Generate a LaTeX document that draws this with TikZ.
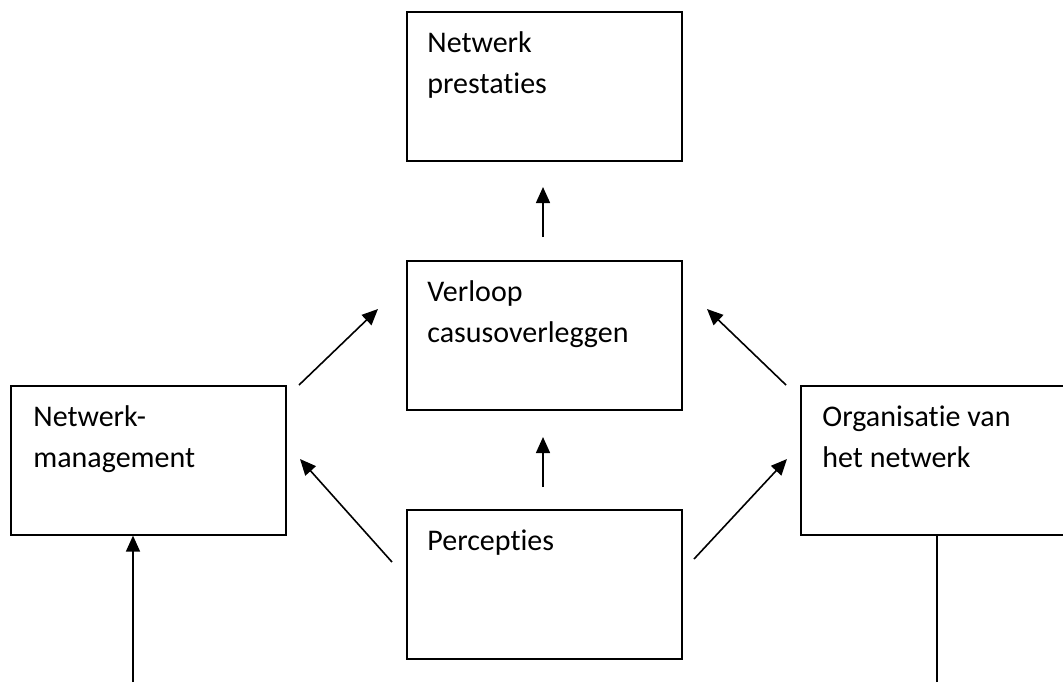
\documentclass[tikz,border=0pt]{standalone}
\usepackage{fontspec}
\setmainfont{Carlito}[Ligatures=NoCommon]
\usetikzlibrary{arrows.meta}
\tikzset{
  box/.style={draw, line width=0.8pt, anchor=north west, minimum width=137.5pt, minimum height=74.5pt, inner sep=0pt},
  boxtext/.style={anchor=base west, align=left, inner sep=0pt, font=\fontsize{15}{20.5}\selectfont},
  pijl/.style={-{Triangle[length=8pt,width=7pt]}, line width=0.8pt},
}
\begin{document}
\begin{tikzpicture}[x=0.5pt,y=-0.5pt]
    \useasboundingbox (0,0) rectangle (1063,682);

    % boxes
    \node[box] (prestaties) at (406,11) {};
    \node[box] (verloop) at (406,260) {};
    \node[box] (percepties) at (406,509) {};
    \node[box] (management) at (10,385) {};
    \node[box, minimum width=136pt] (organisatie) at (800,385) {};

    % texts, base = last line
    \node[boxtext] (t1) at ([xshift=10.5pt,yshift=-41pt]prestaties.north west) {Netwerk\\prestaties};
    \node[boxtext] (t2) at ([xshift=10.5pt,yshift=-41pt]verloop.north west) {Verloop\\casusoverleggen};
    \node[boxtext] (t3) at ([xshift=10.5pt,yshift=-20.5pt]percepties.north west) {Percepties};
    \node[boxtext] (t4) at ([xshift=11.5pt,yshift=-41pt]management.north west) {Netwerk-\\management};
    \node[boxtext] (t5) at ([xshift=11pt,yshift=-41pt]organisatie.north west) {Organisatie van\\het netwerk};

    % arrow ends
    \coordinate (a1) at (543,237);
    \coordinate (a2) at (543,187);
    \coordinate (b1) at (543,487);
    \coordinate (b2) at (543,437);
    \coordinate (c1) at (299,385);
    \coordinate (c2) at (378,309);
    \coordinate (d1) at (786,385);
    \coordinate (d2) at (707,309);
    \coordinate (e1) at (392,562);
    \coordinate (e2) at (300,459);
    \coordinate (f1) at (694,559);
    \coordinate (f2) at (787,459);
    \coordinate (g1) at (133,682);
    \coordinate (h1) at (937,682);

    \draw[pijl] (a1) -- (a2);
    \draw[pijl] (b1) -- (b2);
    \draw[pijl] (c1) -- (c2);
    \draw[pijl] (d1) -- (d2);
    \draw[pijl] (e1) -- (e2);
    \draw[pijl] (f1) -- (f2);
    \draw[pijl] (g1) -- (g1 |- management.south);
    \draw[line width=0.8pt] (h1) -- (h1 |- organisatie.south);

\end{tikzpicture}
\end{document}
